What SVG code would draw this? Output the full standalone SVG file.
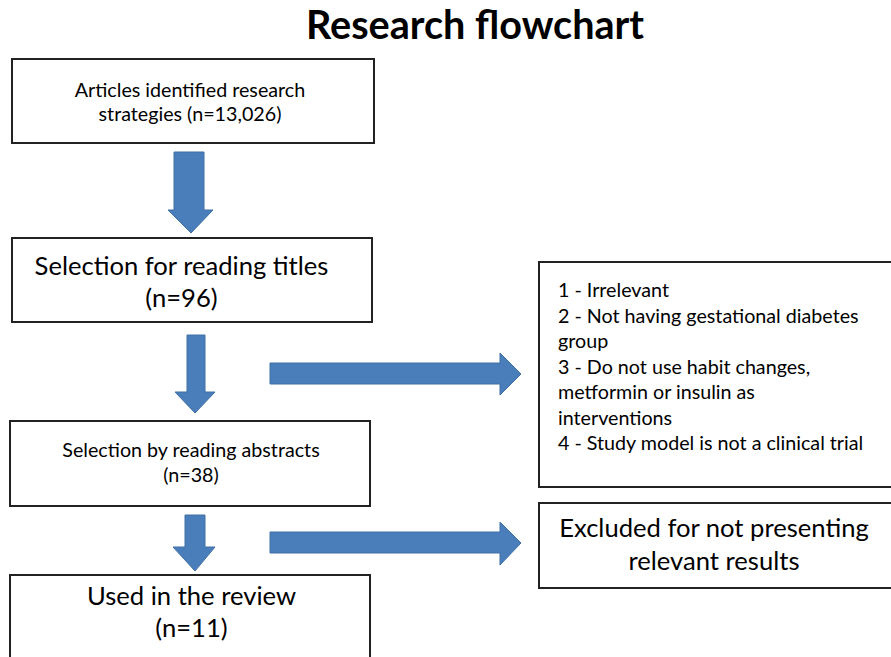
<svg xmlns="http://www.w3.org/2000/svg" width="891" height="657" viewBox="0 0 891 657">
<style>
text{font-family:Lato,"Open Sans","Liberation Sans",sans-serif;fill:#000}
.box{fill:#fff;stroke:#222;stroke-width:2}
.arr{fill:#4a7ebb;stroke:#3f6fa6;stroke-width:1}
.s{font-size:19.7px}
.l{font-size:25.6px}
.t{font-size:39.6px;font-weight:bold}
</style>
<rect width="891" height="657" fill="#fff"/>
<text class="t" x="475" y="39" text-anchor="middle">Research flowchart</text>
<g id="n1"><rect class="box" x="12" y="59" width="362" height="84"/>
<text class="s" x="190" y="97" text-anchor="middle">Articles identified research</text>
<text class="s" x="190" y="121" text-anchor="middle">strategies (n=13,026)</text></g>
<g id="n2"><rect class="box" x="12" y="238" width="360" height="84"/>
<text class="l" x="181.5" y="275" text-anchor="middle">Selection for reading titles</text>
<text class="l" x="181.5" y="307" text-anchor="middle">(n=96)</text></g>
<g id="n3"><rect class="box" x="10" y="421" width="360" height="85"/>
<text class="s" x="191" y="457" text-anchor="middle">Selection by reading abstracts</text>
<text class="s" x="191" y="482" text-anchor="middle">(n=38)</text></g>
<g id="n4"><rect class="box" x="10" y="575" width="360" height="90"/>
<text class="l" x="191.5" y="605" text-anchor="middle">Used in the review</text>
<text class="l" x="191.5" y="637" text-anchor="middle">(n=11)</text></g>
<g id="n5"><rect class="box" x="539" y="262" width="360" height="225"/>
<text class="s" x="558"><tspan x="558" y="297">1 - Irrelevant</tspan><tspan x="558" y="322.5">2 - Not having gestational diabetes</tspan><tspan x="558" y="348">group</tspan><tspan x="558" y="373.5">3 - Do not use habit changes,</tspan><tspan x="558" y="399">metformin or insulin as</tspan><tspan x="558" y="424.5">interventions</tspan><tspan x="558" y="450">4 - Study model is not a clinical trial</tspan></text></g>
<g id="n6"><rect class="box" x="539" y="503" width="360" height="85"/>
<text class="l" x="714" y="537" text-anchor="middle">Excluded for not presenting</text>
<text class="l" x="714" y="570" text-anchor="middle">relevant results</text></g>
<g id="connectors">
<path class="arr" d="M174,152 H204 V210 H213 L191,233 L168,210 H174 Z"/>
<path class="arr" d="M187,335 H205 V392 H215 L195,413 L175,392 H187 Z"/>
<path class="arr" d="M185,515 H205 V547 H215 L195,571 L173,547 H185 Z"/>
<path class="arr" d="M270,363 H500 V353 L521,374 L500,395 V384 H270 Z"/>
<path class="arr" d="M270,532 H500 V522 L521,543 L500,565 V553 H270 Z"/>
</g>
</svg>
